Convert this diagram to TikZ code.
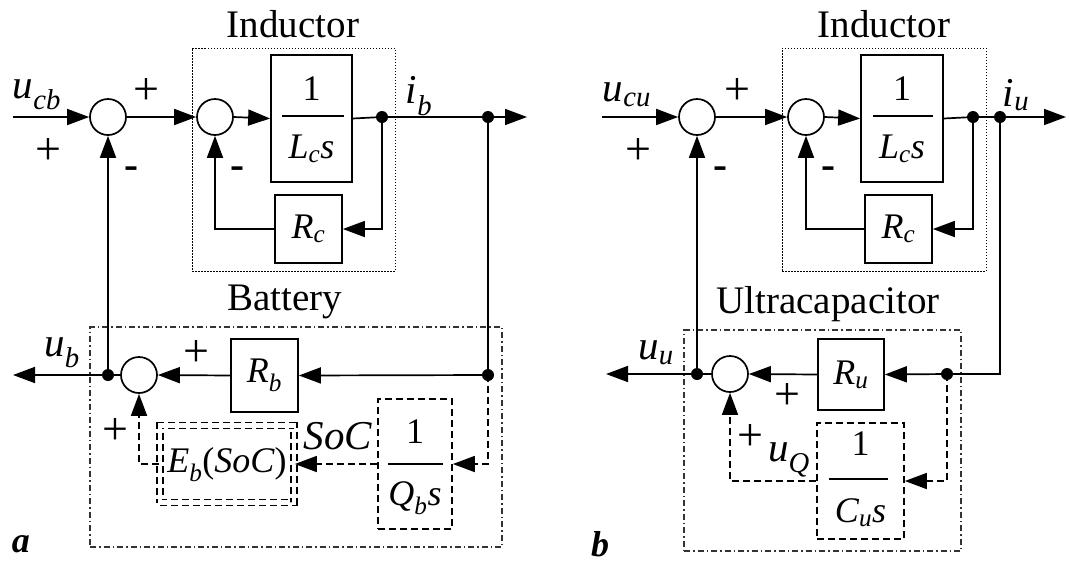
\documentclass[tikz,border=0pt]{standalone}
\usepackage{fontspec}
\setmainfont{Liberation Serif}
\usetikzlibrary{arrows.meta}
\newcommand\vsub[2]{\textit{#1}\textsubscript{\textit{#2}}}
\begin{document}
\begin{tikzpicture}[x=1pt,y=-1pt,line width=1.7pt,
  >={Triangle[length=22pt,width=16pt]},
  sumc/.style={circle,draw,minimum size=36pt,inner sep=0pt},
  blk/.style={draw,rectangle,inner sep=0pt},
  dblk/.style={blk,dash pattern=on 7pt off 4pt},
  dsh/.style={dash pattern=on 7pt off 4pt},
  dotn/.style={circle,fill,inner sep=0pt,minimum size=12pt},
  dotbox/.style={draw,rectangle,inner sep=0pt,line width=1pt,dash pattern=on 1.5pt off 1.5pt},
  ddbox/.style={draw,rectangle,inner sep=0pt,line width=1.2pt,black!80,dash pattern=on 6pt off 3pt on 1.5pt off 3pt},
  txt/.style={inner sep=0pt,font=\fontsize{41}{44}\selectfont},
  ttl/.style={inner sep=0pt,font=\fontsize{39}{44}\selectfont,anchor=base},
  btx/.style={inner sep=0pt,font=\fontsize{36}{38}\selectfont},
  sgn/.style={inner sep=0pt,font=\fontsize{46}{48}\selectfont},
  mns/.style={inner sep=0pt,font=\fontsize{42}{44}\selectfont\bfseries},
  pan/.style={inner sep=0pt,font=\fontsize{36}{40}\selectfont\bfseries\itshape}]
\useasboundingbox (0,0) rectangle (1069,566);

% ================= panel a =================
\node[dotbox,minimum width=203,minimum height=223] (inda) at (293.5,159.5) {};
\node[ttl] (tinda) at (293,37) {Inductor};
\node[ddbox,minimum width=412,minimum height=220] (bata) at (296,437) {};
\node[ttl] (tbata) at (285,310) {Battery};

\coordinate (ina) at (13,117);
\node[sumc] (s1a) at (108,117) {};
\node[sumc] (s2a) at (215,117) {};
\node[blk,minimum width=81,minimum height=127] (ga) at (311.5,118.5) {};
\node[btx] (ga1) at (311.5,89) {1};
\node[btx] (ga2) at (311.5,149) {\textit{L}\textsubscript{\textit{c}}\textit{s}};
\draw (282,116) -- (344,116);
\node[dotn] (d1a) at (382,117) {};
\node[dotn] (d2a) at (488,117) {};
\coordinate (outa) at (527,117);
\node[blk,minimum width=67,minimum height=68] (Rca) at (308.5,229) {};
\node[btx] at (308.5,229) {\vsub{R}{c}};

\draw[->] (ina) -- (s1a.west);
\draw[->] (s1a.east) -- (s2a.west);
\draw[->] (s2a.east) -- (ga.west);
\draw (ga.east) -- (d1a.center) -- (d2a.center);
\draw[->] (d2a.center) -- (outa);
\draw[->] (d1a.center) |- (Rca.east);
\draw[->] (Rca.west) -| (s2a.south);

\node[dotn] (jA) at (108,375) {};
\node[sumc] (s3a) at (139,375) {};
\node[blk,minimum width=67,minimum height=73] (Rba) at (264.5,375.5) {};
\node[btx] at (264.5,375.5) {\vsub{R}{b}};
\node[dotn] (dRa) at (488,375) {};
\coordinate (uba) at (13,375);
\node[dblk,minimum width=74,minimum height=130] (Qa) at (415,464) {};
\node[btx] at (415,432) {1};
\node[btx] at (415,498) {\textit{Q}\textsubscript{\textit{b}}\textit{s}};
\draw (388,464) -- (443,464);
\node[dblk,double,double distance=4.5pt,minimum width=134,minimum height=77] (Ea) at (227,464) {};
\node[btx] at (227,465) {\textit{E}\textsubscript{\textit{b}}(\textit{SoC})};

\draw (d2a.center) -- (dRa.center);
\draw[->] (dRa.center) -- (Rba.east);
\draw[->] (Rba.west) -- (s3a.east);
\draw[->] (s3a.west) -- (uba);
\draw[->] (jA.center) -- (s1a.south);
\draw[dsh,->] (dRa.center) |- (Qa.east);
\draw[dsh,->] (Qa.west) -- (Ea.east);
\draw[dsh,->] (Ea.west) -| (s3a.south);

\node[txt] at (37,95) {\vsub{u}{cb}};
\node[sgn] at (146,92) {+};
\node[sgn] at (48,152) {+};
\node[mns] at (131,173) {-};
\node[mns] at (237,173) {-};
\node[txt] at (419,96) {\vsub{i}{b}};
\node[txt] at (62,353) {\vsub{u}{b}};
\node[sgn] at (196,353) {+};
\node[sgn] at (115,431) {+};
\node[txt] at (338,436) {\textit{SoC}};
\node[pan] at (21,544) {a};

% ================= panel b =================
\node[dotbox,minimum width=204,minimum height=223] (indb) at (884,159.5) {};
\node[ttl] (tindb) at (884,37) {Inductor};
\node[ddbox,minimum width=277,minimum height=221] (ucb) at (822.5,440.5) {};
\node[ttl] (tucb) at (828,313) {Ultracapacitor};

\coordinate (inb) at (602,117);
\node[sumc] (s1b) at (697,117) {};
\node[sumc] (s2b) at (806,117) {};
\node[blk,minimum width=82,minimum height=127] (gb) at (902,118.5) {};
\node[btx] at (902,89) {1};
\node[btx] at (902,149) {\textit{L}\textsubscript{\textit{c}}\textit{s}};
\draw (873,116) -- (933,116);
\node[dotn] (d1b) at (973,117) {};
\node[dotn] (d2b) at (1000,117) {};
\coordinate (outb) at (1066,117);
\node[blk,minimum width=67,minimum height=68] (Rcb) at (898.5,229) {};
\node[btx] at (898.5,229) {\vsub{R}{c}};

\draw[->] (inb) -- (s1b.west);
\draw[->] (s1b.east) -- (s2b.west);
\draw[->] (s2b.east) -- (gb.west);
\draw (gb.east) -- (d1b.center) -- (d2b.center);
\draw[->] (d2b.center) -- (outb);
\draw[->] (d1b.center) |- (Rcb.east);
\draw[->] (Rcb.west) -| (s2b.south);

\node[dotn] (jB) at (697,374) {};
\node[sumc] (s3b) at (730,374) {};
\node[blk,minimum width=66,minimum height=71] (Rub) at (851,374.5) {};
\node[btx] at (851,374.5) {\vsub{R}{u}};
\node[dotn] (dRb) at (947,374) {};
\coordinate (ubb) at (606,374);
\node[dblk,minimum width=87,minimum height=116] (Cb) at (860.5,481) {};
\node[btx] at (860.5,444) {1};
\node[btx] at (860.5,513) {\textit{C}\textsubscript{\textit{u}}\textit{s}};
\draw (829,479) -- (888,479);

\draw (d2b.center) |- (dRb.center);
\draw[->] (dRb.center) -- (Rub.east);
\draw[->] (Rub.west) -- (s3b.east);
\draw[->] (s3b.west) -- (ubb);
\draw[->] (jB.center) -- (s1b.south);
\draw[dsh,->] (dRb.center) |- (Cb.east);
\draw[dsh,->] (Cb.west) -| (s3b.south);

\node[txt] at (627,95) {\vsub{u}{cu}};
\node[sgn] at (737,92) {+};
\node[sgn] at (638,152) {+};
\node[mns] at (720,173) {-};
\node[mns] at (828,173) {-};
\node[txt] at (1016,95) {\vsub{i}{u}};
\node[txt] at (656,353) {\vsub{u}{u}};
\node[sgn] at (787,396) {+};
\node[sgn] at (750,437) {+};
\node[txt] at (789,460) {\vsub{u}{Q}};
\node[pan] at (600,544) {b};
\end{tikzpicture}
\end{document}
